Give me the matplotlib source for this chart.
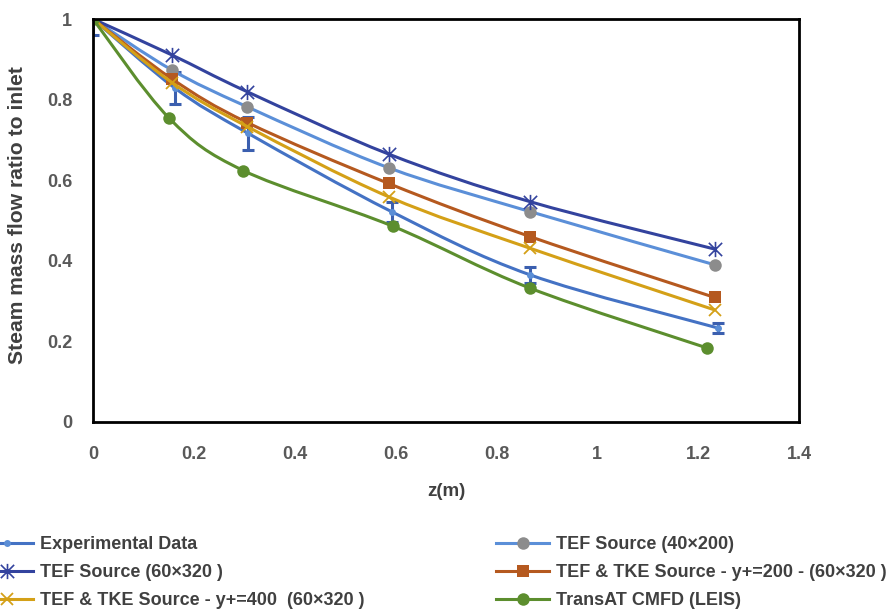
import numpy as np
import matplotlib
matplotlib.use("Agg")
import matplotlib.pyplot as plt
from matplotlib.path import Path
from matplotlib.patches import PathPatch
from matplotlib.lines import Line2D

# ---------------- data ----------------
exp_z   = [0.0, 0.163, 0.308, 0.592, 0.867, 1.240]
exp_y   = [1.0, 0.828, 0.716, 0.522, 0.365, 0.233]
exp_err = [0.04, 0.04, 0.04, 0.025, 0.02, 0.012]

tef40_z = [0.0, 0.157, 0.306, 0.586, 0.867, 1.233]
tef40_y = [1.0, 0.873, 0.782, 0.631, 0.522, 0.390]

tef60_z = [0.0, 0.156, 0.305, 0.586, 0.866, 1.233]
tef60_y = [1.0, 0.911, 0.820, 0.665, 0.547, 0.429]

tke200_z = [0.0, 0.157, 0.306, 0.586, 0.867, 1.233]
tke200_y = [1.0, 0.851, 0.743, 0.592, 0.460, 0.309]

tke400_z = [0.0, 0.157, 0.306, 0.586, 0.867, 1.233]
tke400_y = [1.0, 0.842, 0.733, 0.559, 0.431, 0.278]

transat_z = [0.0, 0.151, 0.298, 0.594, 0.867, 1.217]
transat_y = [1.0, 0.754, 0.624, 0.486, 0.332, 0.184]

labels = ["Experimental Data", "TEF Source (40×200)", "TEF Source (60×320 )",
          "TEF & TKE Source - y+=200 - (60×320 )",
          "TEF & TKE Source - y+=400  (60×320 )", "TransAT CMFD (LEIS)"]

xticks = [0, 0.2, 0.4, 0.6, 0.8, 1, 1.2, 1.4]
xticklabels = ["0", "0.2", "0.4", "0.6", "0.8", "1", "1.2", "1.4"]
yticks = [0, 0.2, 0.4, 0.6, 0.8, 1]
yticklabels = ["0", "0.2", "0.4", "0.6", "0.8", "1"]

# ---------------- style ----------------
plt.rcParams['font.family'] = ['Liberation Sans', 'DejaVu Sans']

fig = plt.figure(figsize=(8.9, 6.09), dpi=100)
ax = fig.add_axes([93/890, 1-422/609, (799-93)/890, (422-19)/609])
ax.set_xlim(0, 1.4)
ax.set_ylim(0, 1)


def smooth_path(xs, ys):
    pts = np.column_stack([xs, ys]).astype(float)
    n = len(pts)
    verts = [pts[0]]
    codes = [Path.MOVETO]
    for i in range(n - 1):
        p0 = pts[i - 1] if i > 0 else pts[i]
        p1 = pts[i]
        p2 = pts[i + 1]
        p3 = pts[i + 2] if i + 2 < n else pts[i + 1]
        c1 = p1 + (p2 - p0) / 6.0
        c2 = p2 - (p3 - p1) / 6.0
        verts += [c1, c2, p2]
        codes += [Path.CURVE4] * 3
    return Path(verts, codes)


# Excel-style "star" marker: an X plus a vertical stroke
excel_star = Path([(-1, -1), (1, 1), (-1, 1), (1, -1), (0, -1.15), (0, 1.15)],
                  [Path.MOVETO, Path.LINETO, Path.MOVETO, Path.LINETO,
                   Path.MOVETO, Path.LINETO])

series = [
    dict(z=exp_z, y=exp_y, lc='#4472C4', mc='#5B8ED6', m='o', ms=5, mew=0),
    dict(z=tef40_z, y=tef40_y, lc='#5B8FD8', mc='#8C8C8C', m='o', ms=9, mew=0),
    dict(z=tef60_z, y=tef60_y, lc='#33439E', mc='#33439E', m=excel_star, ms=11, mew=1.2),
    dict(z=tke200_z, y=tke200_y, lc='#B5591F', mc='#B5591F', m='s', ms=8.5, mew=0),
    dict(z=tke400_z, y=tke400_y, lc='#D4A017', mc='#D4A017', m='x', ms=8.5, mew=1.3),
    dict(z=transat_z, y=transat_y, lc='#5C8E2E', mc='#5C8E2E', m='o', ms=9, mew=0),
]

LW = 2.2
handles = []
for k, s in enumerate(series):
    zo = 3 + k
    patch = PathPatch(smooth_path(s['z'], s['y']), facecolor='none',
                      edgecolor=s['lc'], lw=LW, zorder=zo,
                      transform=ax.transData, capstyle='round')
    ax.add_patch(patch)
    if k == 0:
        ax.errorbar(s['z'], s['y'], yerr=exp_err, fmt='none', ecolor='#3B5FAF',
                    elinewidth=2.2, capsize=4.5, capthick=2.2, zorder=zo)
    ax.plot(s['z'], s['y'], linestyle='none', marker=s['m'], ms=s['ms'],
            mfc=s['mc'], mec=s['mc'], mew=s['mew'], zorder=zo + 0.5)
    handles.append(Line2D([], [], color=s['lc'], lw=LW, marker=s['m'], ms=s['ms'],
                          mfc=s['mc'], mec=s['mc'], mew=s['mew']))

for sp in ax.spines.values():
    sp.set_linewidth(2)
    sp.set_color('black')
    sp.set_zorder(20)

ax.set_xticks(xticks)
ax.set_xticklabels(xticklabels)
ax.set_yticks(yticks)
ax.set_yticklabels(yticklabels)
ax.tick_params(length=0, labelsize=13, labelcolor='#595959')
ax.tick_params(axis='x', pad=17)
ax.tick_params(axis='y', pad=15)
for lab in ax.get_xticklabels() + ax.get_yticklabels():
    lab.set_fontweight('bold')

ax.set_xlabel('z(m)', fontsize=13.5, fontweight='bold', color='#404040',
              labelpad=15)
fig.text(18/890, 1-215/609, 'Steam mass flow ratio to inlet', rotation=90,
         fontsize=15.2, fontweight='bold', color='#404040', ha='center', va='center')

leg_kw = dict(loc='upper left', bbox_transform=fig.transFigure, frameon=False,
              borderpad=0, borderaxespad=0, handlelength=2.95, handletextpad=0.4,
              labelspacing=0.62, prop=dict(size=13, weight='bold'),
              labelcolor='#404040', ncol=1)
left_idx = [0, 2, 4]
right_idx = [1, 3, 5]
leg1 = fig.legend([handles[i] for i in left_idx], [labels[i] for i in left_idx],
                  bbox_to_anchor=(-20/890, 1-536/609), **leg_kw)
leg2 = fig.legend([handles[i] for i in right_idx], [labels[i] for i in right_idx],
                  bbox_to_anchor=(496/890, 1-536/609), **leg_kw)

fig.savefig('out.png', dpi=100, facecolor='white')
